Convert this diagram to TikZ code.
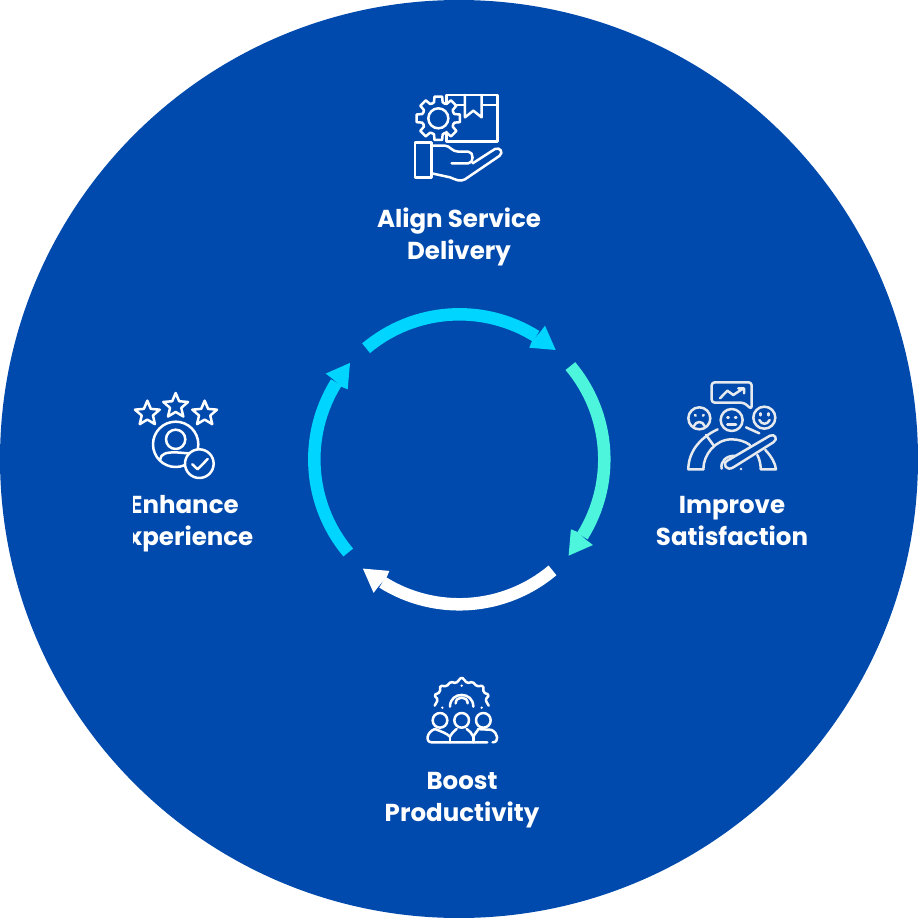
\documentclass[tikz,border=0pt]{standalone}
\usepackage{fontspec}
\usepackage{xcolor}
\usetikzlibrary{shapes.geometric}
\setmainfont{Poppins}
\definecolor{discblue}{HTML}{004AAD}
\definecolor{ringcyan}{HTML}{00D5FF}
\definecolor{ringmint}{HTML}{4CF5DC}
\definecolor{dimwhite}{HTML}{E6E9EE}
\tikzset{
  label text/.style={text=white, align=center, font=\fontsize{24.5}{32}\selectfont\bfseries},
  icon line/.style={draw=white, line width=2.5pt, line join=round, line cap=round},
  icon grid/.style={x=0.3333pt, y=-0.3333pt},
}
\begin{document}
\begin{tikzpicture}[x=1pt, y=-1pt]
    \useasboundingbox (0,0) rectangle (918,918);
    \fill[discblue] (459,459) circle[radius=459pt];
    % ring of four arrows
    \foreach \ang/\col in {0/ringcyan, -90/ringmint, 180/white, 90/ringcyan} {
        \begin{scope}[shift={(459.3,459.3)}, x=1pt, y=1pt, rotate=\ang]
            \draw[\col, line width=12.5pt] (130:145) arc (130:58:145);
            \fill[\col] (96.4,109.3) -- (85.7,133.6) -- (80.7,127) -- (72.4,117.6) -- (70,111.6) -- cycle;
        \end{scope}
    }
    % labels
    \node[label text] (delivery) at (459,237) {Align Service\\Delivery};
    \node[label text] (satisfaction) at (732,521) {Improve\\Satisfaction};
    \node[label text] (productivity) at (462,800) {Boost\\Productivity};
    \begin{scope}
        \clip (133,480) rectangle (300,560);
        \node[label text] (experience) at (184,524) {Enhance\\Experience};
    \end{scope}
    % delivery icon
    \begin{scope}[shift={(400,80)}, icon grid, icon line]
        \draw (140,70) -- (140,45) -- (293,45) -- (293,185) -- (140,185) -- (140,156);
        \draw (165,75) -- (195,75) (245,75) -- (293,75);
        \draw (195,45) -- (195,112) -- (220,92) -- (245,112) -- (245,45);
        \draw (115,115) circle[radius=30];
        \foreach \a in {0,45,...,315} {
            \begin{scope}[shift={(115,115)}, rotate=\a]
                \draw (-22.5:48) -- (-15:50) -- (-10:66) -- (10:66) -- (15:50) -- (22.5:48);
            \end{scope}
        }
        \draw (45,187) rectangle (95,293);
        \draw (95,197) -- (135,197) .. controls (150,197) and (155,215) .. (175,215) -- (205,215)
            .. controls (222,215) and (222,250) .. (205,250) -- (155,250);
        \draw (218,250) -- (285,207) .. controls (300,200) and (312,218) .. (298,228)
            -- (195,298) .. controls (180,306) and (170,300) .. (150,292) -- (95,280);
    \end{scope}
    % satisfaction icon
    \begin{scope}[shift={(670,370)}, icon grid, icon line, draw=dimwhite]
        \draw[rounded corners=3pt] (125,37) -- (245,37) -- (245,118) -- (222,98) -- (125,98) -- cycle;
        \draw (150,85) -- (172,62) -- (190,75) -- (220,55) (205,55) -- (222,55) -- (222,70);
        \draw (88,145) circle[radius=33] (185,150) circle[radius=33] (283,143) circle[radius=33];
        \draw (75,135) -- (77,137) (101,135) -- (99,137);
        \draw (72,168) .. controls (78,152) and (98,152) .. (104,168);
        \draw (172,142) -- (176,142) (195,142) -- (199,142) (172,163) -- (198,163);
        \draw (272,130) -- (272,136) (295,130) -- (295,136);
        \draw (268,150) .. controls (275,165) and (292,165) .. (299,150);
        \draw (100,298) -- (55,298) .. controls (55,250) and (85,205) .. (143,178);
        \draw (108,195) -- (130,225);
        \draw (228,172) -- (268,190);
        \draw (286,240) .. controls (305,260) and (316,280) .. (318,298) -- (272,298) .. controls (272,285) and (270,270) .. (262,255);
        \draw (100,298) .. controls (100,255) and (135,208) .. (185,208) .. controls (205,208) and (225,214) .. (240,225);
        \draw (155,296) .. controls (150,275) and (170,255) .. (195,258);
        \draw (172,272) -- (300,197) .. controls (315,190) and (325,208) .. (310,217)
            -- (190,292) .. controls (170,305) and (155,282) .. (172,272);
        \fill[dimwhite] (213,297) circle[radius=4];
    \end{scope}
    % productivity icon
    \begin{scope}[shift={(410,665)}, icon grid, icon line]
        \draw[rounded corners=1.5pt] (74,122) -- (84,104) -- (72,90) -- (90,82) -- (90,62) -- (110,64) -- (122,50) -- (138,55) -- (155,36)
            -- (172,55) -- (188,50) -- (200,64) -- (220,62) -- (220,82) -- (238,90) -- (226,104) -- (236,122);
        \draw (120,125) .. controls (120,78) and (190,78) .. (190,125);
        \draw (137,115) .. controls (137,92) and (173,92) .. (173,115);
        \fill[white] (97,128) circle[radius=4] (215,128) circle[radius=4] (155,62) circle[radius=4];
        \draw (90,166) circle[radius=22] (155,166) circle[radius=22] (220,166) circle[radius=22];
        \draw (232,232) -- (65,232) .. controls (45,232) and (50,200) .. (75,192);
        \draw (75,192) .. controls (95,200) and (110,205) .. (120,215) .. controls (125,205) and (135,195) .. (140,192);
        \draw (170,192) .. controls (178,197) and (186,205) .. (190,215) .. controls (195,205) and (205,195) .. (205,192);
        \draw (205,192) .. controls (220,195) and (235,192) .. (245,195) .. controls (265,205) and (268,232) .. (248,232);
        \draw (120,215) -- (120,232) (190,215) -- (190,232);
    \end{scope}
    % experience icon
    \begin{scope}[shift={(120,385)}, icon grid, icon line]
        \foreach \sx/\sy/\sname in {82/86/starleft, 167/63/starmid, 254/86/starright} {
            \node[star, star points=5, star point ratio=2.2, icon line, minimum size=26pt, inner sep=0pt] (\sname) at (\sx,\sy) {};
        }
        \draw (167,178) circle[radius=68];
        \draw (167,163) circle[radius=29];
        \draw (120,225) .. controls (122,205) and (140,202) .. (167,202) -- (205,205);
        \draw[fill=discblue] (238,236) circle[radius=43];
        \draw (217,238) -- (233,253) -- (263,222);
    \end{scope}
\end{tikzpicture}
\end{document}
